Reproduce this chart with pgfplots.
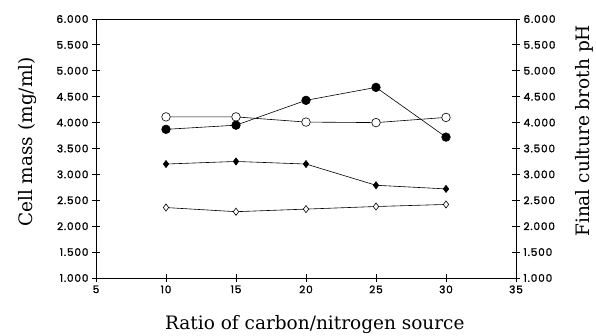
\documentclass[border=0pt]{standalone}
\usepackage{fontspec}
\usepackage{pgfplots}
\pgfplotsset{compat=1.18}
\newfontfamily\tickfont[LetterSpace=8,FakeBold=1.5]{Poppins}
\newfontfamily\labfont{DejaVu Serif}
\begin{document}
\begin{tikzpicture}
\begin{axis}[at={(0pt,0pt)},anchor=south west,scale only axis,width=420pt,height=259pt,
  xmin=5,xmax=35,ymin=1,ymax=6,
  ytick={1,1.5,...,6},
  xtick={5,10,...,35},
  axis x line*=bottom, axis y line*=left,
  tick align=center,
  major tick length=8pt,
  tick style={black,line width=0.8pt},
  axis line style={line width=0.7pt,-},
  /pgf/number format/assume math mode=true,
  yticklabel style={/pgf/number format/.cd,fixed,fixed zerofill,precision=3},
  tick label style={font=\tickfont\fontsize{10.5}{12}\selectfont},
  label style={font=\labfont\fontsize{18.5}{21}\selectfont},
  xlabel={Ratio of carbon/nitrogen source},
  ylabel={Cell mass (mg/ml)},
  xlabel style={at={(axis description cs:0.521,-0.178)},anchor=center},
  ylabel style={at={(axis description cs:-0.162,0.525)},anchor=center},
  ]
\addplot[black,line width=0.6pt,mark=*,mark size=4.3pt,mark options={fill=white}]
  coordinates {(10,4.11)(15,4.11)(20,4.01)(25,4.00)(30,4.10)};
\addplot[black,line width=0.6pt,mark=*,mark size=4.3pt,mark options={fill=black}]
  coordinates {(10,3.87)(15,3.95)(20,4.43)(25,4.68)(30,3.72)};
\addplot[black,line width=0.6pt,mark=diamond*,mark size=3.6pt,mark options={fill=black}]
  coordinates {(10,3.20)(15,3.25)(20,3.20)(25,2.79)(30,2.72)};
\addplot[black,line width=0.6pt,mark=diamond*,mark size=3.6pt,mark options={fill=white}]
  coordinates {(10,2.36)(15,2.28)(20,2.33)(25,2.38)(30,2.42)};
\end{axis}
\begin{axis}[at={(0pt,0pt)},anchor=south west,scale only axis,width=420pt,height=259pt,
  xmin=5,xmax=35,ymin=1,ymax=6,
  ytick={1,1.5,...,6},
  xtick=\empty,
  axis x line*=top, axis y line*=right,
  tick align=center,
  major tick length=8pt,
  tick style={black,line width=0.8pt},
  axis line style={line width=0.7pt,-},
  /pgf/number format/assume math mode=true,
  yticklabel style={/pgf/number format/.cd,fixed,fixed zerofill,precision=3},
  tick label style={font=\tickfont\fontsize{10.5}{12}\selectfont},
  label style={font=\labfont\fontsize{18.5}{21}\selectfont},
  ylabel={Final culture broth pH},
  ylabel style={at={(axis description cs:1.164,0.568)},anchor=center},
  ]
\end{axis}
\pgfresetboundingbox
\path (-96pt,-58pt) rectangle (500pt,278pt);
\end{tikzpicture}
\end{document}
